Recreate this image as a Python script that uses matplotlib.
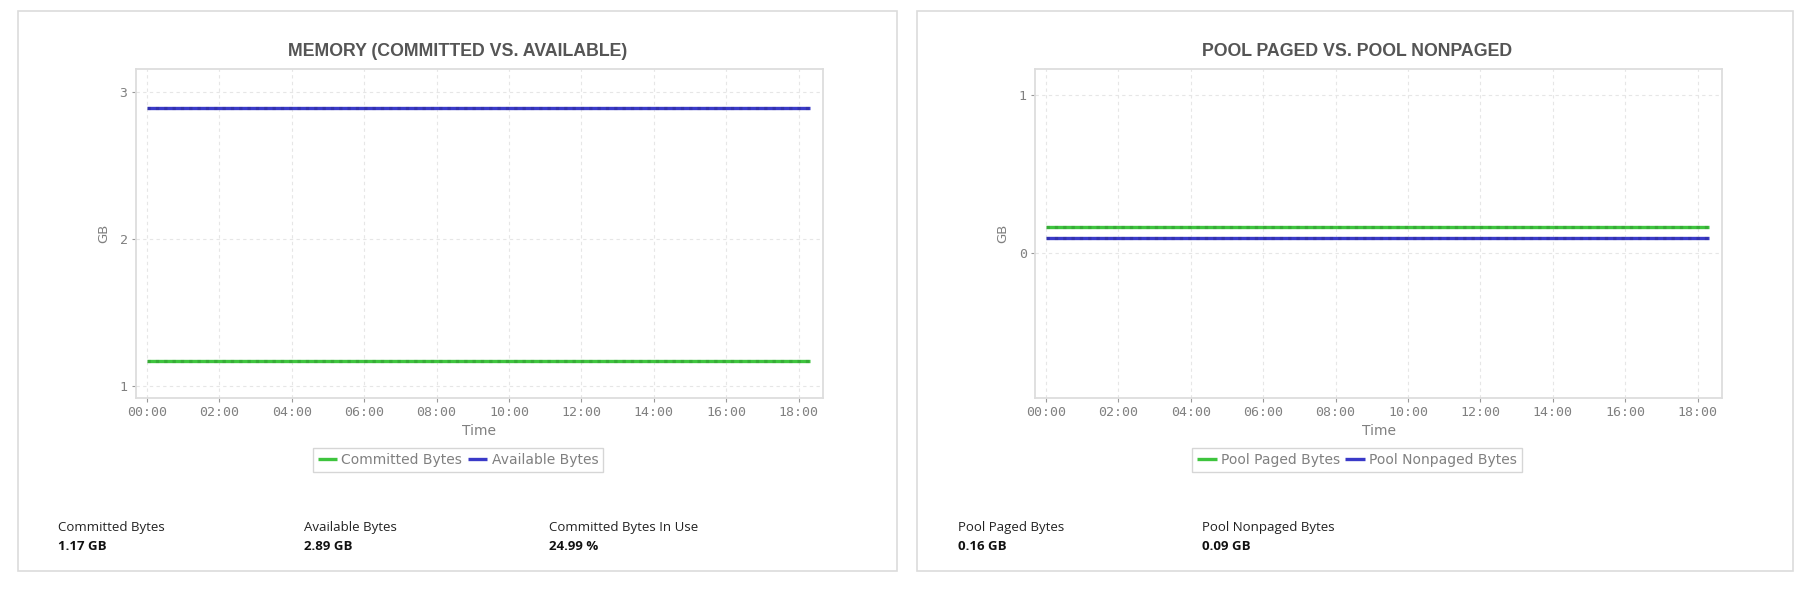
import matplotlib.pyplot as plt
from matplotlib.patches import Rectangle

# data (hours since midnight, values in GB)
time_hours = [0.0, 18.3]
committed_gb = [1.17, 1.17]
available_gb = [2.89, 2.89]
pool_paged_gb = [0.16, 0.16]
pool_nonpaged_gb = [0.09, 0.09]

tick_hours = [0, 2, 4, 6, 8, 10, 12, 14, 16, 18]
tick_labels = ["00:00", "02:00", "04:00", "06:00", "08:00", "10:00", "12:00", "14:00", "16:00", "18:00"]

mem_stats = [("Committed Bytes", "1.17 GB"), ("Available Bytes", "2.89 GB"), ("Committed Bytes In Use", "24.99 %")]
pool_stats = [("Pool Paged Bytes", "0.16 GB"), ("Pool Nonpaged Bytes", "0.09 GB")]

GREEN = "#3ec43e"
BLUE = "#3a3ac8"
W, H = 1808, 590


def fx(px):
	return px / W


def fy(py):
	return 1 - py / H


fig = plt.figure(figsize=(W / 100, H / 100), dpi=100)
fig.patch.set_facecolor("white")

# panel frames
for (x0, x1) in [(18, 897), (917, 1793)]:
	fig.patches.append(Rectangle((fx(x0), fy(571)), fx(x1 - x0), (571 - 11) / H,
		transform=fig.transFigure, facecolor="none", edgecolor="#dcdcdc", lw=1.2, zorder=-10))


def draw_panel(left_px, title, series, ylim, yticks, stats, stat_x):
	ax = fig.add_axes([fx(left_px), fy(398), fx(687), (398 - 69) / H])
	for (vals, color, name) in series:
		ax.plot(time_hours, vals, color=color, lw=2.4, label=name, solid_capstyle="butt")
		ax.plot(time_hours, vals, color="#000000", lw=2.4, alpha=0.12, ls=(0, (1, 1.5)))
	ax.set_xlim(-0.3, 18.67)
	ax.set_ylim(*ylim)
	ax.set_xticks(tick_hours)
	ax.set_xticklabels(tick_labels)
	ax.set_yticks(yticks)
	ax.set_yticklabels([str(t) for t in yticks])
	ax.grid(True, color="#e6e6e6", ls=(0, (3, 3)), lw=0.8)
	for s in ax.spines.values():
		s.set_color("#dddddd")
		s.set_linewidth(1.3)
	ax.tick_params(axis="both", length=3, width=0.8, color="#999999", labelcolor="#808080", pad=3)
	for lab in ax.get_xticklabels() + ax.get_yticklabels():
		lab.set_family("DejaVu Sans Mono")
		lab.set_fontsize(9.5)

	center = left_px + 687 / 2
	panel_center = left_px - 118 + 880 / 2
	fig.text(fx(panel_center), fy(52), title, ha="center", va="center", fontsize=12.8,
		fontweight="bold", color="#555555", family="Liberation Sans")
	fig.text(fx(center), fy(431), "Time", ha="center", va="center", fontsize=10, color="#808080")
	fig.text(fx(left_px - 32), fy(233), "GB", ha="center", va="center", fontsize=9.5,
		color="#808080", rotation=90)

	handles, labels = ax.get_legend_handles_labels()
	fig.legend(handles, labels, loc="center", bbox_to_anchor=(fx(panel_center), fy(460)), ncol=2,
		frameon=True, fancybox=False, edgecolor="#cccccc", fontsize=10, labelcolor="#808080",
		handlelength=1.4, handletextpad=0.3, columnspacing=0.4, borderpad=0.35, borderaxespad=0)

	for i, (name, value) in enumerate(stats):
		fig.text(fx(stat_x[i]), fy(527), name, ha="left", va="center", fontsize=9.5,
			color="#222222", family="Open Sans")
		fig.text(fx(stat_x[i]), fy(546), value, ha="left", va="center", fontsize=9.5,
			color="#111111", family="Open Sans", fontweight="bold")
	return ax


draw_panel(136, "MEMORY (COMMITTED VS. AVAILABLE)",
	[(committed_gb, GREEN, "Committed Bytes"), (available_gb, BLUE, "Available Bytes")],
	(0.918, 3.156), [1, 2, 3], mem_stats, [58, 304, 549])

draw_panel(1035, "POOL PAGED VS. POOL NONPAGED",
	[(pool_paged_gb, GREEN, "Pool Paged Bytes"), (pool_nonpaged_gb, BLUE, "Pool Nonpaged Bytes")],
	(-0.924, 1.166), [0, 1], pool_stats, [958, 1202])

plt.savefig("out.png", dpi=100, facecolor="white")
